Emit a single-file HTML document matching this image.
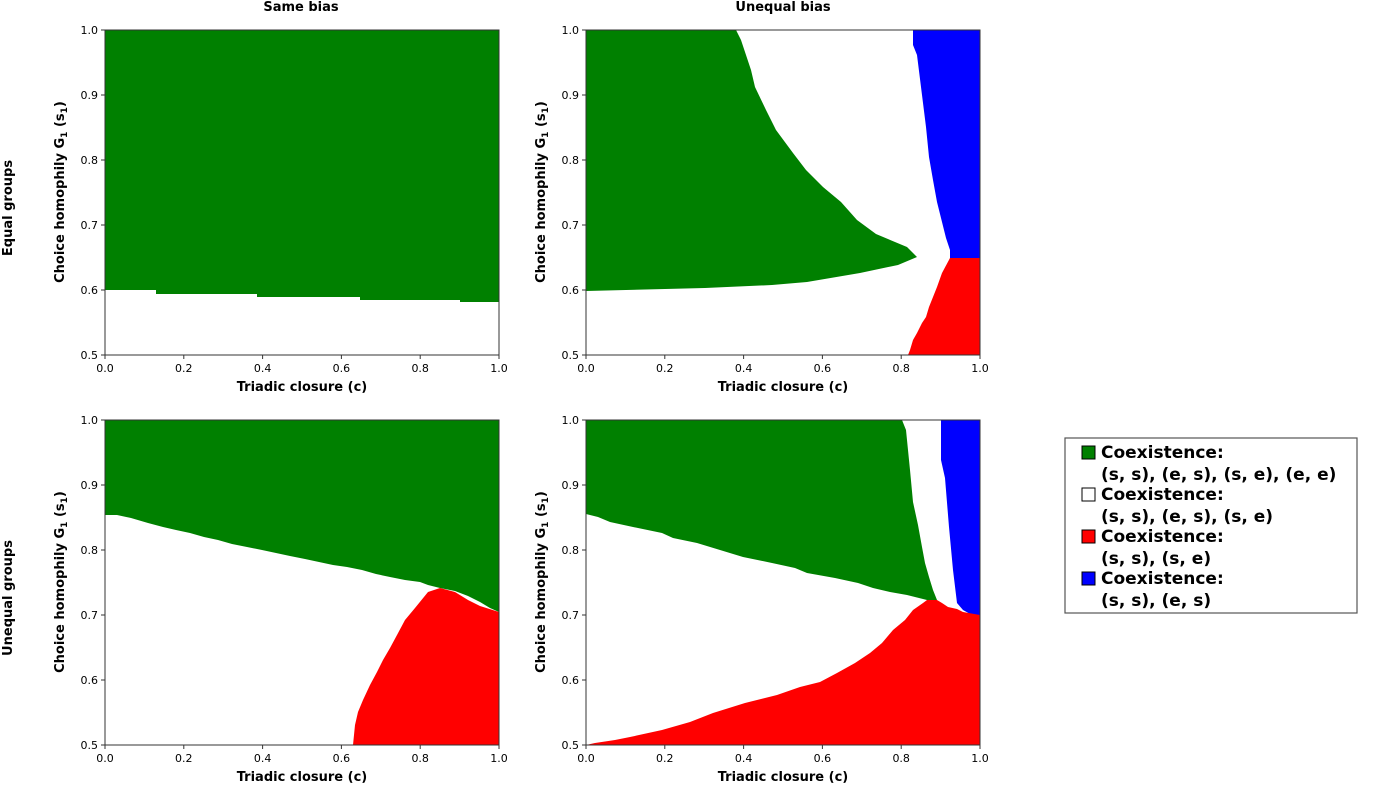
<!DOCTYPE html>
<html><head><meta charset="utf-8"><style>
body{margin:0;background:#fff}
svg{display:block;font-family:"DejaVu Sans","Liberation Sans",sans-serif}
.t{font-size:11px;fill:#000}
.lb{font-size:13px;font-weight:bold}
.lg{font-size:17px;font-weight:bold;font-family:"DejaVu Sans","Liberation Sans",sans-serif}
</style></head><body>
<svg width="1385" height="793" xmlns="http://www.w3.org/2000/svg">
<defs>
<g id="ax">
<rect x="0" y="0" width="394" height="325" fill="none" stroke="#333" stroke-width="1"/>
<g stroke="#333"><line x1="0" y1="325" x2="0" y2="329"/><line x1="78.8" y1="325" x2="78.8" y2="329"/><line x1="157.6" y1="325" x2="157.6" y2="329"/><line x1="236.4" y1="325" x2="236.4" y2="329"/><line x1="315.2" y1="325" x2="315.2" y2="329"/><line x1="394" y1="325" x2="394" y2="329"/>
<line x1="0" y1="0" x2="-4" y2="0"/><line x1="0" y1="65" x2="-4" y2="65"/><line x1="0" y1="130" x2="-4" y2="130"/><line x1="0" y1="195" x2="-4" y2="195"/><line x1="0" y1="260" x2="-4" y2="260"/><line x1="0" y1="325" x2="-4" y2="325"/></g>
<g class="t" text-anchor="middle"><text x="0" y="342">0.0</text><text x="78.8" y="342">0.2</text><text x="157.6" y="342">0.4</text><text x="236.4" y="342">0.6</text><text x="315.2" y="342">0.8</text><text x="394" y="342">1.0</text></g>
<g class="t" text-anchor="end"><text x="-7" y="4">1.0</text><text x="-7" y="69">0.9</text><text x="-7" y="134">0.8</text><text x="-7" y="199">0.7</text><text x="-7" y="264">0.6</text><text x="-7" y="329">0.5</text></g>
<text class="lb" x="197" y="361" text-anchor="middle">Triadic closure (c)</text>
<text class="lb" transform="translate(-41,162) rotate(-90)" text-anchor="middle">Choice homophily G<tspan font-size="9" dy="3">1</tspan><tspan dy="-3"> (s</tspan><tspan font-size="9" dy="3">1</tspan><tspan dy="-3">)</tspan></text>
</g>
</defs>

<text class="lb" x="301" y="11" text-anchor="middle">Same bias</text>
<text class="lb" x="783" y="11" text-anchor="middle">Unequal bias</text>
<text class="lb" transform="translate(12,208) rotate(-90)" text-anchor="middle">Equal groups</text>
<text class="lb" transform="translate(12,598) rotate(-90)" text-anchor="middle">Unequal groups</text>

<!-- TL -->
<g transform="translate(105,30)">
<polygon fill="#008000" points="0,0 394,0 394,272 355,272 355,270 255,270 255,267 152,267 152,264 51,264 51,260 0,260"/>
<use href="#ax"/>
</g>
<!-- TR -->
<g transform="translate(586,30)">
<polygon fill="#008000" points="0,0 150,0 155,10 160,25 165,40 169,57 180,80 190,100 207,123 220,140 237,157 255,172 271,190 290,204 321,217 331,227 312,235 274,243 221,252 186,255 119,258 0,261"/>
<polygon fill="#0000ff" points="327,0 394,0 394,228 364,228 364,220 360,208 356,192 351,172 347,150 343,127 340,97 336,65 331,25 327,15"/>
<polygon fill="#ff0000" points="364,228 394,228 394,325 322,325 324,320 327,310 331,303 336,293 340,287 343,277 351,257 356,243"/>
<use href="#ax"/>
</g>
<!-- BL -->
<g transform="translate(105,420)">
<polygon fill="#008000" points="0,0 394,0 394,192 385,188 375,182 363,176 350,171 335,168 323,165 315,162 300,160 285,157 271,154 257,150 242,147 228,145 214,142 200,139 185,136 171,133 157,130 142,127 127,124 113,120 99,117 85,113 71,110 58,107 43,103 26,98 12,95 0,95"/>
<polygon fill="#ff0000" points="248,325 250,305 253,292 258,280 265,265 272,252 278,240 285,228 292,215 300,200 310,188 323,172 335,168 350,172 363,180 375,186 394,192 394,325"/>
<use href="#ax"/>
</g>
<!-- BR -->
<g transform="translate(586,420)">
<polygon fill="#008000" points="0,0 316,0 320,10 324,50 327,82 332,105 336,127 339,143 343,157 347,170 351,180 341,180 321,175 304,172 287,168 272,163 249,158 221,153 209,148 186,143 157,137 134,130 111,123 87,118 76,113 47,107 24,102 12,97 0,94"/>
<polygon fill="#0000ff" points="355,0 394,0 394,195 386,195 377,190 371,183 367,150 363,107 359,58 355,40"/>
<polygon fill="#ff0000" points="341,180 351,180 356,183 362,187 371,189 377,192 394,195 394,325 0,325 9,323 29,320 44,317 76,310 104,302 127,293 159,283 191,275 214,267 234,262 251,253 269,243 284,233 296,223 307,210 319,200 327,190 337,183"/>
<use href="#ax"/>
</g>

<!-- legend -->
<rect x="1065" y="438" width="292" height="175" fill="#fff" stroke="#555" stroke-width="1.2"/>
<rect x="1082" y="446" width="13" height="13" fill="#008000" stroke="#000"/>
<rect x="1082" y="488" width="13" height="13" fill="#fff" stroke="#000"/>
<rect x="1082" y="530" width="13" height="13" fill="#ff0000" stroke="#000"/>
<rect x="1082" y="572" width="13" height="13" fill="#0000ff" stroke="#000"/>
<g class="lg">
<text x="1101" y="458">Coexistence:</text>
<text x="1101" y="480">(s, s), (e, s), (s, e), (e, e)</text>
<text x="1101" y="500">Coexistence:</text>
<text x="1101" y="522">(s, s), (e, s), (s, e)</text>
<text x="1101" y="542">Coexistence:</text>
<text x="1101" y="564">(s, s), (s, e)</text>
<text x="1101" y="584">Coexistence:</text>
<text x="1101" y="606">(s, s), (e, s)</text>
</g>
</svg>
</body></html>
